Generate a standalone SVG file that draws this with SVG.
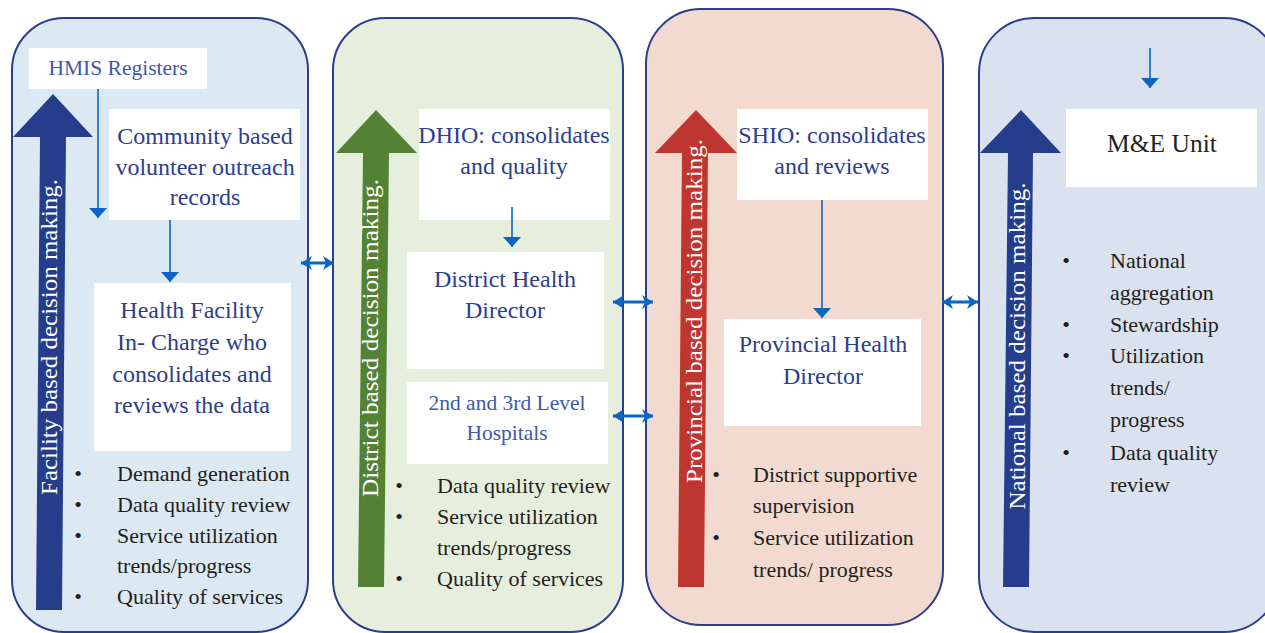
<svg xmlns="http://www.w3.org/2000/svg" width="1265" height="633" viewBox="0 0 1265 633">
<defs>
<style>
.panel{stroke:#2b3e8c;stroke-width:2}
.box{fill:#ffffff}
.title{font-family:"Liberation Serif","Times New Roman",serif;font-size:24px;fill:#2d3e8e;text-anchor:middle}
.light{font-family:"Liberation Serif","Times New Roman",serif;font-size:21.5px;fill:#3d5aa8;text-anchor:middle}
.dark{font-family:"Liberation Serif","Times New Roman",serif;font-size:22px;fill:#231f20}
.unit{font-family:"Liberation Serif","Times New Roman",serif;font-size:25.5px;fill:#231f20;text-anchor:middle}
.bul{font-family:"Liberation Serif","Times New Roman",serif;font-size:22px;fill:#231f20;text-anchor:middle}
.vert{font-family:"Liberation Serif","Times New Roman",serif;font-size:24px;fill:#ffffff;text-anchor:middle}
.flow{stroke:#0a66c2;stroke-width:1.6;fill:none;marker-end:url(#ah)}
.link{stroke:#0a66c2;stroke-width:3;fill:none;marker-start:url(#dh);marker-end:url(#dh)}
</style>
<marker id="ah" viewBox="0 0 10 18" refX="10" refY="9" markerWidth="10" markerHeight="18" markerUnits="userSpaceOnUse" orient="auto"><path d="M0,0 L10,9 L0,18 z" fill="#0a66c2"/></marker>
<marker id="dh" viewBox="0 0 11 14" refX="11" refY="7" markerWidth="11" markerHeight="14" markerUnits="userSpaceOnUse" orient="auto-start-reverse"><path d="M0,0 L11,7 L0,14 L3,7 z" fill="#0a66c2"/></marker>
</defs>
<rect width="1265" height="633" fill="#ffffff"/>

<g id="panel-facility">
<rect class="panel" x="12" y="18" width="296" height="614" rx="52" fill="#dce9f3"/>
<polygon points="40,137 13,137 53,94 93,137 66,137 62,610 36,610" fill="#253d8b"/>
<text class="vert" transform="translate(57,337) rotate(-90)" textLength="316" lengthAdjust="spacingAndGlyphs">Facility based decision making.</text>
</g>

<g id="panel-district">
<rect class="panel" x="333" y="18" width="290" height="614" rx="52" fill="#e6efde"/>
<polygon points="363,153 336,153 376,110 417,153 389,153 384,587 358,587" fill="#548235"/>
<text class="vert" transform="translate(378,338) rotate(-90)" textLength="318" lengthAdjust="spacingAndGlyphs">District based decision making.</text>
</g>

<g id="panel-provincial">
<rect class="panel" x="646" y="9" width="297" height="616" rx="55" fill="#f2dad0"/>
<polygon points="682,153 655,153 696,110 737,153 708,153 704,587 678,587" fill="#bf3530"/>
<text class="vert" transform="translate(702,311) rotate(-90)" textLength="344" lengthAdjust="spacingAndGlyphs">Provincial based decision making.</text>
</g>

<g id="panel-national">
<rect class="panel" x="979" y="18" width="300" height="614" rx="55" fill="#dae2ef"/>
<polygon points="1008,153 980,153 1021,110 1061,153 1033,153 1029,587 1003,587" fill="#253d8b"/>
<text class="vert" transform="translate(1025,346) rotate(-90)" textLength="327" lengthAdjust="spacingAndGlyphs">National based decision making.</text>
</g>

<g id="hmis">
<rect class="box" x="29" y="48" width="178" height="41"/>
<text class="light" x="118" y="75">HMIS Registers</text>
</g>

<g id="community">
<rect class="box" x="109" y="109" width="191" height="111"/>
<text class="title" x="205" y="144">Community based</text>
<text class="title" x="205" y="175">volunteer outreach</text>
<text class="title" x="205" y="205">records</text>
</g>

<g id="health-facility">
<rect class="box" x="94" y="283" width="197" height="168"/>
<text class="title" x="192" y="318">Health Facility</text>
<text class="title" x="192" y="350">In- Charge who</text>
<text class="title" x="192" y="382">consolidates and</text>
<text class="title" x="192" y="413">reviews the data</text>
</g>

<g id="facility-list">
<text class="bul" x="78" y="481">•</text>
<text class="dark" x="117" y="481">Demand generation</text>
<text class="bul" x="78" y="512">•</text>
<text class="dark" x="117" y="512">Data quality review</text>
<text class="bul" x="78" y="543">•</text>
<text class="dark" x="117" y="543">Service utilization</text>
<text class="dark" x="117" y="573">trends/progress</text>
<text class="bul" x="78" y="604">•</text>
<text class="dark" x="117" y="604">Quality of services</text>
</g>

<g id="dhio">
<rect class="box" x="419" y="109" width="191" height="111"/>
<text class="title" x="514" y="143">DHIO: consolidates</text>
<text class="title" x="514" y="174">and quality</text>
</g>

<g id="dhd">
<rect class="box" x="407" y="252" width="197" height="117"/>
<text class="title" x="505" y="287">District Health</text>
<text class="title" x="505" y="318">Director</text>
</g>

<g id="hospitals">
<rect class="box" x="407" y="382" width="201" height="82"/>
<text class="light" x="507" y="410">2nd and 3rd Level</text>
<text class="light" x="507" y="440">Hospitals</text>
</g>

<g id="district-list">
<text class="bul" x="399" y="493">•</text>
<text class="dark" x="437" y="493">Data quality review</text>
<text class="bul" x="399" y="524">•</text>
<text class="dark" x="437" y="524">Service utilization</text>
<text class="dark" x="437" y="555">trends/progress</text>
<text class="bul" x="399" y="586">•</text>
<text class="dark" x="437" y="586">Quality of services</text>
</g>

<g id="shio">
<rect class="box" x="737" y="109" width="191" height="91"/>
<text class="title" x="832" y="143">SHIO: consolidates</text>
<text class="title" x="832" y="174">and reviews</text>
</g>

<g id="phd">
<rect class="box" x="724" y="319" width="197" height="107"/>
<text class="title" x="823" y="352">Provincial Health</text>
<text class="title" x="823" y="384">Director</text>
</g>

<g id="provincial-list">
<text class="bul" x="716" y="482">•</text>
<text class="dark" x="753" y="482">District supportive</text>
<text class="dark" x="753" y="513">supervision</text>
<text class="bul" x="716" y="545">•</text>
<text class="dark" x="753" y="545">Service utilization</text>
<text class="dark" x="753" y="577">trends/ progress</text>
</g>

<g id="me-unit">
<rect class="box" x="1066" y="109" width="191" height="78"/>
<text class="unit" x="1162" y="152">M&amp;E Unit</text>
</g>

<g id="national-list">
<text class="bul" x="1066" y="268">•</text>
<text class="dark" x="1110" y="268">National</text>
<text class="dark" x="1110" y="300">aggregation</text>
<text class="bul" x="1066" y="332">•</text>
<text class="dark" x="1110" y="332">Stewardship</text>
<text class="bul" x="1066" y="363">•</text>
<text class="dark" x="1110" y="363">Utilization</text>
<text class="dark" x="1110" y="395">trends/</text>
<text class="dark" x="1110" y="427">progress</text>
<text class="bul" x="1066" y="460">•</text>
<text class="dark" x="1110" y="460">Data quality</text>
<text class="dark" x="1110" y="492">review</text>
</g>

<g id="connectors">
<line class="flow" x1="98" y1="89" x2="98" y2="218"/>
<line class="flow" x1="170" y1="220" x2="170" y2="282"/>
<line class="flow" x1="512" y1="207" x2="512" y2="247"/>
<line class="flow" x1="822" y1="200" x2="822" y2="318"/>
<line class="flow" x1="1150" y1="48" x2="1150" y2="88"/>
<line class="link" x1="301" y1="263" x2="334" y2="263"/>
<line class="link" x1="613" y1="302" x2="653" y2="302"/>
<line class="link" x1="613" y1="416" x2="653" y2="416"/>
<line class="link" x1="942" y1="302" x2="978" y2="302"/>
</g>
</svg>
